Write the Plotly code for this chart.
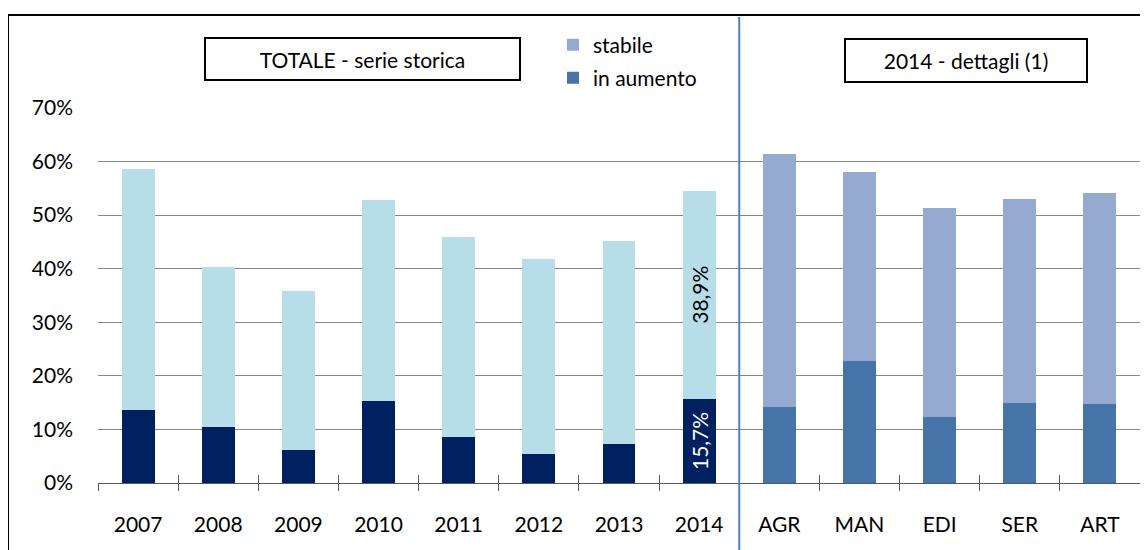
import plotly.graph_objects as go

# ---- data ----
years = ["2007", "2008", "2009", "2010", "2011", "2012", "2013", "2014"]
years_aumento = [13.6, 10.5, 6.2, 15.4, 8.5, 5.5, 7.2, 15.7]
years_stabile = [45.1, 29.9, 29.6, 37.4, 37.5, 36.4, 37.9, 38.9]

sectors = ["AGR", "MAN", "EDI", "SER", "ART"]
sect_aumento = [14.1, 22.7, 12.4, 15.0, 14.8]
sect_stabile = [47.4, 35.3, 38.9, 38.0, 39.3]

y_ticks = [0, 10, 20, 30, 40, 50, 60, 70]
categories = years + sectors

title_left = "TOTALE - serie storica"
title_right = "2014 - dettagli (1)"

# ---- styling ----
FONT = "Lato, Carlito, Calibri, sans-serif"
FS = 21
C_NAVY = "#002060"
C_LIGHT = "#B7DDE8"
C_STEEL = "#4673A8"
C_PERI = "#95AAD0"
C_GRID = "#888888"
C_AXIS = "#595959"


def pct(v):
    return f"{v:.1f}".replace(".", ",") + "%"


aum_text = ["" for _ in years[:-1]] + [pct(years_aumento[-1])]
stab_text = ["" for _ in years[:-1]] + [pct(years_stabile[-1])]

fig = go.Figure()

fig.add_trace(go.Bar(
    x=years, y=years_aumento, marker=dict(color=C_NAVY, line_width=0),
    text=aum_text, textposition="inside", textangle=-90,
    insidetextanchor="middle", constraintext="none",
    insidetextfont=dict(color="white", size=FS, family=FONT),
    showlegend=False, hoverinfo="skip"))
fig.add_trace(go.Bar(
    x=years, y=years_stabile, marker=dict(color=C_LIGHT, line_width=0),
    text=stab_text, textposition="inside", textangle=-90,
    insidetextanchor="middle", constraintext="none",
    insidetextfont=dict(color="black", size=FS, family=FONT),
    showlegend=False, hoverinfo="skip"))
fig.add_trace(go.Bar(
    x=sectors, y=sect_aumento, marker=dict(color=C_STEEL, line_width=0),
    name="in aumento", legend="legend2", hoverinfo="skip"))
fig.add_trace(go.Bar(
    x=sectors, y=sect_stabile, marker=dict(color=C_PERI, line_width=0),
    name="stabile", legend="legend", hoverinfo="skip"))

# invisible helper trace for the upper half of the crossing tick marks
fig.add_trace(go.Scatter(
    x=categories, y=years_aumento + sect_aumento, xaxis="x2", yaxis="y",
    mode="markers", marker=dict(opacity=0), showlegend=False, hoverinfo="skip"))

# page is offset by the 8px body margin; plot area in page pixels: x 98..1140, y 108..483
OFF = 8
W, H = 1148 - OFF, 550 - OFF
PX0, PX1, PY0, PY1 = 98, 1140, 108, 483
L = PX0 - OFF
R = (W + OFF) - PX1
T = PY0 - OFF
B = (H + OFF) - PY1
pw = PX1 - PX0
ph = PY1 - PY0


def px_x(p):
    return (p - PX0) / pw


def px_y(p):
    return (PY1 - p) / ph


fig.update_layout(
    width=W, height=H,
    margin=dict(l=L, r=R, t=T, b=B),
    paper_bgcolor="white", plot_bgcolor="white",
    barmode="stack", bargap=0.59,
    font=dict(family=FONT, size=FS, color="black"),
    xaxis=dict(
        type="category", categoryarray=categories, categoryorder="array",
        range=[-0.5, len(categories) - 0.5],
        showline=True, linecolor=C_AXIS, linewidth=1,
        ticks="outside", ticklen=7, tickcolor=C_AXIS, tickwidth=1,
        tickson="boundaries", showgrid=False, zeroline=False,
        ticklabelstandoff=23, tickfont=dict(size=FS, color="black"),
    ),
    xaxis2=dict(
        type="category", categoryarray=categories, categoryorder="array",
        range=[-0.5, len(categories) - 0.5], overlaying="x", anchor="y",
        side="bottom", showline=False, showgrid=False, zeroline=False,
        ticks="inside", ticklen=8, tickcolor=C_AXIS, tickwidth=1,
        tickson="boundaries", showticklabels=False,
    ),
    yaxis=dict(
        range=[0, 70], tickmode="array", tickvals=y_ticks,
        ticktext=[f"{v}%" for v in y_ticks],
        showgrid=True, gridcolor=C_GRID, gridwidth=1,
        zeroline=False, showline=False, ticks="",
        ticklabelstandoff=24, tickfont=dict(size=FS, color="black"),
    ),
    legend=dict(
        x=px_x(553), y=px_y(45), xanchor="left", yanchor="middle",
        bgcolor="rgba(0,0,0,0)", borderwidth=0,
        font=dict(size=FS, family=FONT, color="black"),
    ),
    legend2=dict(
        x=px_x(553), y=px_y(78), xanchor="left", yanchor="middle",
        bgcolor="rgba(0,0,0,0)", borderwidth=0,
        font=dict(size=FS, family=FONT, color="black"),
    ),
    shapes=[
        # outer frame
        dict(type="rect", xref="paper", yref="paper",
             x0=px_x(8), x1=px_x(1170), y0=px_y(580), y1=px_y(15),
             line=dict(color="black", width=2), fillcolor="rgba(0,0,0,0)",
             layer="above"),
        # separator between series and details
        dict(type="line", xref="x", yref="paper",
             x0=len(years) - 0.5, x1=len(years) - 0.5,
             y0=px_y(580), y1=px_y(17),
             line=dict(color="#4F81BD", width=2), layer="above"),
    ],
    annotations=[
        dict(text=title_left, xref="paper", yref="paper",
             x=px_x(362.5), y=px_y(59), xanchor="center", yanchor="middle",
             showarrow=False, width=313, height=40, borderpad=0,
             bordercolor="black", borderwidth=2, bgcolor="white",
             font=dict(size=FS, family=FONT, color="black")),
        dict(text=title_right, xref="paper", yref="paper",
             x=px_x(966), y=px_y(60.5), xanchor="center", yanchor="middle",
             showarrow=False, width=240, height=41, borderpad=0,
             bordercolor="black", borderwidth=2, bgcolor="white",
             font=dict(size=FS, family=FONT, color="black")),
    ],
)

fig.write_html("out.html")
